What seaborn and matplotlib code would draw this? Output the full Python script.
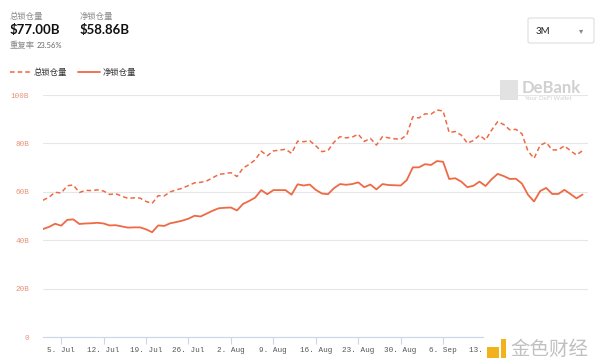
import numpy as np
import pandas as pd
import matplotlib
matplotlib.use('Agg')
import matplotlib.pyplot as plt
import matplotlib.dates as mdates
from matplotlib.patches import FancyBboxPatch, Rectangle
import seaborn as sns

# data (billions USD, one point per day from 2 Jul)
start_day = '2021-07-02'
total_tvl = [56.5, 57.8, 59.8, 59.5, 62.5, 62.8, 59.7, 60.6, 60.5, 60.8,
             60.3, 58.9, 59.2, 58.2, 57.3, 57.5, 57.4, 56.0, 55.2, 58.4,
             58.3, 60.0, 60.8, 61.5, 62.6, 63.7, 63.9, 64.5, 65.8, 67.2,
             67.5, 67.9, 66.3, 69.8, 71.3, 73.2, 76.8, 74.9, 76.9, 77.2,
             77.6, 75.9, 80.9, 80.7, 81.1, 79.0, 76.6, 77.0, 80.5, 82.8,
             82.3, 82.6, 83.8, 80.8, 82.1, 79.3, 82.8, 82.3, 81.9, 81.7,
             83.5, 91.0, 90.5, 92.2, 92.1, 93.8, 93.4, 84.5, 84.9, 83.4,
             80.1, 81.2, 83.4, 81.4, 85.5, 89.0, 87.8, 85.6, 85.8, 84.0,
             76.8, 73.8, 79.2, 80.4, 77.3, 77.3, 79.0, 77.0, 75.2, 77.0]
net_tvl = [44.6, 45.5, 46.8, 46.0, 48.4, 48.6, 46.7, 46.9, 47.0, 47.2,
           46.9, 46.1, 46.2, 45.7, 45.2, 45.3, 45.3, 44.5, 43.3, 46.1,
           45.9, 47.0, 47.5, 48.1, 48.9, 50.1, 49.8, 51.0, 52.2, 53.2,
           53.4, 53.5, 52.3, 55.0, 56.2, 57.6, 60.7, 59.0, 60.7, 60.7,
           60.7, 58.8, 63.1, 62.6, 63.0, 60.8, 59.3, 59.0, 61.5, 63.2,
           62.9, 63.2, 63.9, 61.9, 63.0, 61.0, 63.2, 62.8, 62.7, 62.6,
           64.8, 70.1, 70.1, 71.4, 71.1, 72.7, 72.4, 65.3, 65.6, 64.2,
           61.9, 62.5, 64.2, 62.4, 65.2, 67.4, 66.5, 65.3, 65.4, 63.4,
           58.8, 56.0, 60.3, 61.6, 59.1, 59.1, 60.8, 59.1, 57.3, 58.86]
y_ticks = [0, 20, 40, 60, 80, 100]
y_labels = ['0', '20B', '40B', '60B', '80B', '100B']
x_ticks = ['2021-07-05', '2021-07-12', '2021-07-19', '2021-07-26', '2021-08-02',
           '2021-08-09', '2021-08-16', '2021-08-23', '2021-08-30', '2021-09-06',
           '2021-09-13', '2021-09-20', '2021-09-27']
x_labels = ['5. Jul', '12. Jul', '19. Jul', '26. Jul', '2. Aug', '9. Aug',
            '16. Aug', '23. Aug', '30. Aug', '6. Sep', '13. Sep', '', '']
names = ['总锁仓量', '净锁仓量']

dates = pd.date_range(start_day, periods=len(total_tvl), freq='D')
df = pd.DataFrame({'date': dates, 'total': total_tvl, 'net': net_tvl})

sns.set_style('white')
plt.rcParams['font.family'] = ['Noto Sans CJK SC', 'DejaVu Sans']

line_col = '#ee6a45'
fig = plt.figure(figsize=(6.0, 3.61), dpi=100)
ax = fig.add_axes([43 / 600, 1 - 337 / 361, 545 / 600, 242 / 361])

sns.lineplot(data=df, x='date', y='total', ax=ax, color=line_col, lw=1.1,
             linestyle=(0, (3, 2)))
sns.lineplot(data=df, x='date', y='net', ax=ax, color=line_col, lw=1.3)

x0 = pd.Timestamp(start_day)
ax.set_xlim(x0, x0 + pd.Timedelta(days=89.9))
ax.set_ylim(0, 100)
ax.set_xlabel('')
ax.set_ylabel('')

for s in ['top', 'right', 'left']:
    ax.spines[s].set_visible(False)
ax.spines['bottom'].set_color('#ccd6eb')
ax.spines['bottom'].set_linewidth(0.8)

ax.set_yticks(y_ticks)
ax.set_yticklabels(y_labels)
ax.grid(axis='y', color='#e6e6e6', lw=0.8)
ax.grid(axis='x', visible=False)
ax.tick_params(axis='y', length=0, pad=10, labelsize=5.5, labelcolor='#e8917a')
for t in ax.get_yticklabels():
    t.set_family('Liberation Mono')

ax.set_xticks(pd.to_datetime(x_ticks))
ax.set_xticklabels(x_labels)
ax.tick_params(axis='x', length=5, width=0.8, color='#ccd6eb', pad=2,
               labelsize=5.5, labelcolor='#555555', direction='out', bottom=True)
for t in ax.get_xticklabels():
    t.set_family('Liberation Mono')

# header
fig.text(10 / 600, 1 - 16 / 361, '总锁仓量', fontsize=6, color='#8a8a8a', va='center')
fig.text(10 / 600, 1 - 30 / 361, '$77.00B', fontsize=9.5, color='#111111',
         va='center', family=['Lato', 'DejaVu Sans'], weight='bold')
fig.text(80 / 600, 1 - 16 / 361, '净锁仓量', fontsize=6, color='#8a8a8a', va='center')
fig.text(80 / 600, 1 - 30 / 361, '$58.86B', fontsize=9.5, color='#111111',
         va='center', family=['Lato', 'DejaVu Sans'], weight='bold')
fig.text(10 / 600, 1 - 45 / 361, '重复率', fontsize=6, color='#8a8a8a', va='center')
fig.text(37 / 600, 1 - 45 / 361, '23.56%', fontsize=5.5, color='#666666',
         va='center', family=['Lato', 'DejaVu Sans'])

# range selector
box = FancyBboxPatch((528 / 600, 1 - 43 / 361), 66 / 600, 25 / 361,
                     boxstyle='round,pad=0,rounding_size=0.004',
                     transform=fig.transFigure, fc='white', ec='#dddddd', lw=0.8)
fig.patches.append(box)
fig.text(536 / 600, 1 - 31 / 361, '3M', fontsize=7, color='#222222', va='center',
         family=['Lato', 'DejaVu Sans'])
fig.text(581 / 600, 1 - 31 / 361, '▾', fontsize=6, color='#888888', va='center',
         ha='center', family='DejaVu Sans')

# legend
fig.lines.append(plt.Line2D([10 / 600, 31 / 600], [1 - 72 / 361] * 2,
                            transform=fig.transFigure, color=line_col, lw=1.1,
                            linestyle=(0, (3, 2))))
fig.text(34 / 600, 1 - 72 / 361, names[0], fontsize=6, color='#333333', va='center')
fig.lines.append(plt.Line2D([78 / 600, 100 / 600], [1 - 72 / 361] * 2,
                            transform=fig.transFigure, color=line_col, lw=1.3))
fig.text(103 / 600, 1 - 72 / 361, names[1], fontsize=6, color='#333333', va='center')

# watermarks
fig.patches.append(Rectangle((500 / 600, 1 - 100 / 361), 18 / 600, 20 / 361,
                             transform=fig.transFigure, fc='#e2e2e2', ec='none'))
fig.text(522 / 600, 1 - 88 / 361, 'DeBank', fontsize=12, color='#d0d0d0',
         va='center', weight='bold', family=['Lato', 'DejaVu Sans'])
fig.text(524 / 600, 1 - 99 / 361, 'Your DeFi Wallet', fontsize=4.5, color='#d0d0d0',
         va='center', family=['Lato', 'DejaVu Sans'])
fig.patches.append(Rectangle((484 / 600, 0), 116 / 600, 26 / 361,
                             transform=fig.transFigure, fc='white', ec='none'))
fig.patches.append(Rectangle((487 / 600, 3 / 361), 12 / 600, 11 / 361,
                             transform=fig.transFigure, fc='#f2b21c', ec='none'))
fig.patches.append(Rectangle((501 / 600, 3 / 361), 5 / 600, 19 / 361,
                             transform=fig.transFigure, fc='#f2b21c', ec='none'))
fig.text(510 / 600, 12 / 361, '金色财经', fontsize=14, color='#c0c0c0', va='center')

fig.savefig('out.png', dpi=100, facecolor='white')
